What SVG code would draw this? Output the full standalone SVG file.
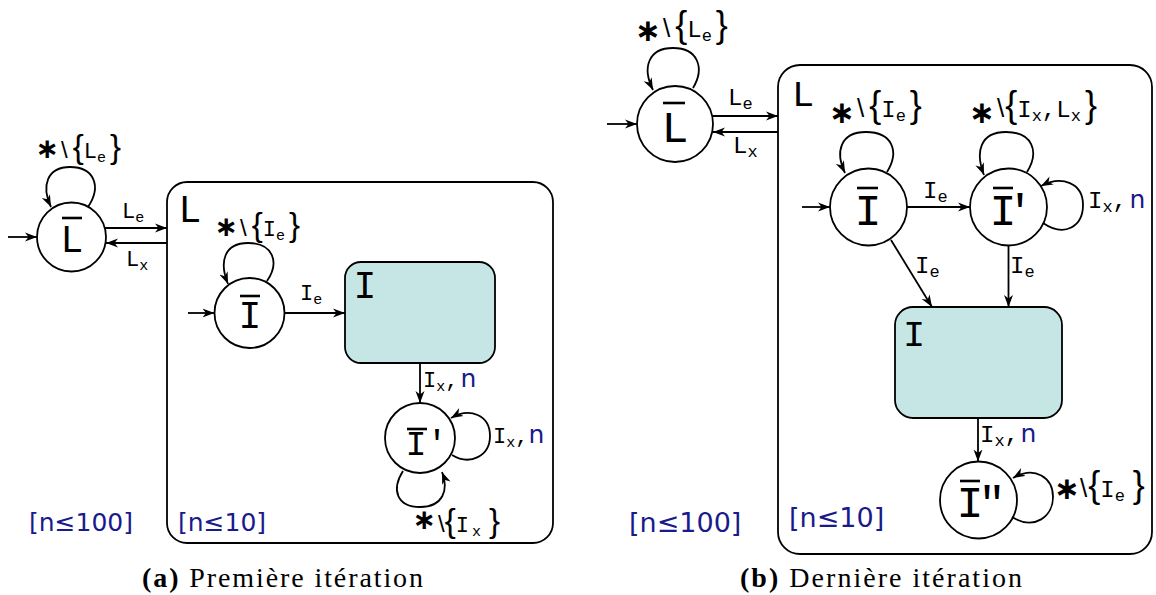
<svg xmlns="http://www.w3.org/2000/svg" width="1156" height="595" viewBox="0 0 1156 595">
<style>
.c{fill:#fff;stroke:#000;stroke-width:1.8}
.box{fill:#fff;stroke:#000;stroke-width:1.8}
.blk{fill:#c6e6e5;stroke:#000;stroke-width:1.8}
.e{fill:none;stroke:#000;stroke-width:1.8;marker-end:url(#ah)}
.bar{stroke:#000;stroke-width:2.6}
.g{font-family:"Liberation Mono",monospace;font-size:38px;text-anchor:middle}
.gb{font-family:"Liberation Mono",monospace;font-size:45px;text-anchor:middle}
.t{font-family:"Liberation Mono",monospace;font-size:22px}
.tb{font-family:"Liberation Mono",monospace;font-size:24px}
.s{font-size:15px}
.sb{font-size:17px}
.bs{font-family:"Liberation Sans",sans-serif;font-size:24px}
.bsb{font-family:"Liberation Sans",sans-serif;font-size:26px}
.br{font-family:"Liberation Sans",sans-serif;font-size:33px}
.brb{font-family:"Liberation Sans",sans-serif;font-size:36px}
.ast{font-family:"DejaVu Sans",sans-serif;font-weight:bold;font-size:28px}
.astb{font-family:"DejaVu Sans",sans-serif;font-weight:bold;font-size:31px}
.n{fill:#1a1a8c;font-family:"DejaVu Sans",sans-serif;font-size:25px}
.bl{fill:#1a1a8c;font-family:"DejaVu Sans",sans-serif;font-size:25px}
.blb{fill:#1a1a8c;font-family:"DejaVu Sans",sans-serif;font-size:27px}
.cap{font-family:"Liberation Serif",serif;font-size:28px;text-anchor:middle}
</style>
<defs>
<marker id="ah" markerUnits="userSpaceOnUse" markerWidth="13" markerHeight="10" refX="12" refY="5" orient="auto" viewBox="0 0 13 10">
<path d="M0,0.5 L12,5 L0,9.5 L3.5,5 z" fill="#000"/>
</marker>
</defs>

<!-- ===== (a) Première itération ===== -->
<g id="a-boxL">
<rect class="box" x="167" y="182" width="386" height="361" rx="20"/>
<text class="g" x="190" y="222">L</text>
<text class="bl" x="178" y="531">[n≤10]</text>
</g>
<g id="a-Lbar">
<circle class="c" cx="71.5" cy="237" r="34.5"/>
<line class="bar" x1="62" y1="218" x2="82" y2="218"/>
<text class="g" x="72" y="252">L</text>
</g>
<g id="a-Ibar">
<circle class="c" cx="249.5" cy="313" r="35"/>
<line class="bar" x1="240" y1="296" x2="260" y2="296"/>
<text class="g" x="250" y="328">I</text>
</g>
<g id="a-I">
<rect class="blk" x="345" y="262" width="150" height="101" rx="16"/>
<text class="g" x="365" y="298">I</text>
</g>
<g id="a-Ibarp">
<circle class="c" cx="420" cy="438" r="35"/>
<line class="bar" x1="407" y1="429" x2="427" y2="429"/>
<text x="405.5" y="455" style="font-family:'Liberation Mono',monospace;font-size:35px">I'</text>
</g>
<text id="a-bound" class="bl" x="29" y="531">[n≤100]</text>

<g id="a-edges">
<line class="e" x1="8" y1="237" x2="37" y2="237"/>
<path class="e" d="M88 207 C102 186,94 167,70 167 C47 167,41 186,51 207"/>
<line class="e" x1="105" y1="228" x2="167" y2="228"/>
<line class="e" x1="167" y1="243" x2="106" y2="243"/>
<line class="e" x1="188" y1="313" x2="214.5" y2="313"/>
<path class="e" d="M267 281 C280 262,273 243,248 243 C224 243,219 262,228 284"/>
<line class="e" x1="284.5" y1="313" x2="345" y2="313"/>
<line class="e" x1="420" y1="363" x2="420" y2="403"/>
<path class="e" d="M452 455 C470 466,490 456,490 436 C490 415,470 407,451 418"/>
<path class="e" d="M403 471 C391 490,397 507,420 507 C443 507,449 490,442 472"/>
</g>
<g id="a-labels">
<text class="t" x="35.5" y="158"><tspan class="ast" y="158.4">∗</tspan><tspan class="bs" dx="2" y="158">\</tspan><tspan class="br" dx="5">{</tspan><tspan>L</tspan><tspan class="s" dy="4">e</tspan><tspan class="br" dx="4" dy="-4">}</tspan></text>
<text class="t" x="122" y="218">L<tspan class="s" dy="4">e</tspan></text>
<text class="t" x="126" y="266">L<tspan class="s" dy="4">x</tspan></text>
<text class="t" x="214.5" y="236"><tspan class="ast" y="236.4">∗</tspan><tspan class="bs" dx="2" y="236">\</tspan><tspan class="br" dx="5">{</tspan><tspan>I</tspan><tspan class="s" dy="4">e</tspan><tspan class="br" dx="4" dy="-4">}</tspan></text>
<text class="t" x="300" y="300">I<tspan class="s" dy="4">e</tspan></text>
<text class="t" x="423" y="387">I<tspan class="s" dy="4">x</tspan><tspan dy="-4">,</tspan><tspan class="n" dx="2">n</tspan></text>
<text class="t" x="493" y="443">I<tspan class="s" dy="4">x</tspan><tspan dy="-4">,</tspan><tspan class="n">n</tspan></text>
<text class="t" x="412.5" y="532"><tspan class="ast" y="529">∗</tspan><tspan class="bs" dx="2" y="532">\</tspan><tspan class="br">{</tspan><tspan>I</tspan><tspan class="s" dx="3" dy="4">x</tspan><tspan class="br" dx="8" dy="-4">}</tspan></text>
</g>
<text id="a-caption" class="cap" x="282.5" y="587" textLength="281" lengthAdjust="spacing"><tspan font-weight="bold">(a)</tspan> Première itération</text>

<!-- ===== (b) Dernière itération ===== -->
<g id="b-boxL">
<rect class="box" x="778" y="65" width="374" height="489" rx="22"/>
<text class="g" style="font-size:37px" x="803" y="106">L</text>
<text class="blb" x="789" y="527">[n≤10]</text>
</g>
<g id="b-Lbar">
<circle class="c" cx="675" cy="124" r="38"/>
<line class="bar" x1="663" y1="103" x2="685" y2="103"/>
<text class="gb" x="675" y="142">L</text>
</g>
<g id="b-Ibar">
<circle class="c" cx="868.5" cy="207" r="38.5"/>
<line class="bar" x1="857" y1="188" x2="878" y2="188"/>
<text class="gb" x="868" y="225">I</text>
</g>
<g id="b-Ibarp">
<circle class="c" cx="1008.5" cy="207" r="38.5"/>
<line class="bar" x1="993" y1="188" x2="1013" y2="188"/>
<text x="989.5" y="225" style="font-family:'Liberation Mono',monospace;font-size:45px;letter-spacing:-10px">I'</text>
</g>
<g id="b-I">
<rect class="blk" x="895" y="307" width="167" height="111" rx="18"/>
<text class="g" style="font-size:37px" x="914" y="346">I</text>
</g>
<g id="b-Ibarpp">
<circle class="c" cx="978.5" cy="500" r="38.5"/>
<line class="bar" x1="960" y1="481" x2="980" y2="481"/>
<text x="956.5" y="517" style="font-family:'Liberation Mono',monospace;font-size:45px;letter-spacing:-5px">I"</text>
</g>
<text id="b-bound" class="blb" x="629" y="532">[n≤100]</text>

<g id="b-edges">
<line class="e" x1="607" y1="124" x2="637" y2="124"/>
<path class="e" d="M693 88 C705 68,698 48,673 48 C648 48,642 68,653 90"/>
<line class="e" x1="712" y1="116" x2="778" y2="116"/>
<line class="e" x1="778" y1="132" x2="713" y2="132"/>
<line class="e" x1="802" y1="207" x2="830" y2="207"/>
<path class="e" d="M887 172 C900 151,892 132,866 132 C840 132,835 152,845 173"/>
<line class="e" x1="907" y1="207" x2="970" y2="207"/>
<path class="e" d="M1027 172 C1040 151,1032 132,1006 132 C980 132,975 152,984 175"/>
<path class="e" d="M1043 223 C1065 238,1083 226,1083 205 C1083 183,1062 175,1041 186"/>
<line class="e" x1="891" y1="240" x2="932" y2="307"/>
<line class="e" x1="1008.5" y1="245.5" x2="1008.5" y2="307"/>
<line class="e" x1="978" y1="418" x2="978" y2="461.5"/>
<path class="e" d="M1012 517 C1035 531,1053 516,1053 497 C1053 478,1035 465,1013 478"/>
</g>
<g id="b-labels">
<text class="tb" x="635" y="37"><tspan class="astb" y="41">∗</tspan><tspan class="bsb" dx="2" y="37">\</tspan><tspan class="brb" dx="5">{</tspan><tspan>L</tspan><tspan class="sb" dy="4">e</tspan><tspan class="brb" dx="4" dy="-4">}</tspan></text>
<text class="tb" x="728" y="105">L<tspan class="sb" dy="4">e</tspan></text>
<text class="tb" x="733" y="153">L<tspan class="sb" dy="4">x</tspan></text>
<text class="tb" x="829" y="117"><tspan class="astb" y="123.3">∗</tspan><tspan class="bsb" dx="2" y="117">\</tspan><tspan class="brb" dx="5">{</tspan><tspan>I</tspan><tspan class="sb" dy="4">e</tspan><tspan class="brb" dx="4" dy="-4">}</tspan></text>
<text class="tb" x="969" y="117"><tspan class="astb" y="123.3">∗</tspan><tspan class="bsb" dx="2" y="117">\</tspan><tspan class="brb" dx="1">{</tspan><tspan>I</tspan><tspan class="sb" dy="4">x</tspan><tspan dy="-4">,</tspan><tspan>L</tspan><tspan class="sb" dy="4">x</tspan><tspan class="brb" dx="4" dy="-4">}</tspan></text>
<text class="tb" x="923" y="198">I<tspan class="sb" dy="4">e</tspan></text>
<text class="tb" x="1088" y="208">I<tspan class="sb" dy="4">x</tspan><tspan dy="-4">,</tspan><tspan class="n" dx="2.5">n</tspan></text>
<text class="tb" x="915" y="273">I<tspan class="sb" dy="4">e</tspan></text>
<text class="tb" x="1010" y="273">I<tspan class="sb" dy="4">e</tspan></text>
<text class="tb" x="980" y="442">I<tspan class="sb" dy="4">x</tspan><tspan dy="-4">,</tspan><tspan class="n" dx="1.5">n</tspan></text>
<text class="tb" x="1054" y="497"><tspan class="astb" y="499.3">∗</tspan><tspan class="bsb" y="497">\</tspan><tspan class="brb" dx="1">{</tspan><tspan>I</tspan><tspan class="sb" dy="4">e</tspan><tspan class="brb" dx="8" dy="-4">}</tspan></text>
</g>
<text id="b-caption" class="cap" x="881" y="587" textLength="282" lengthAdjust="spacing"><tspan font-weight="bold">(b)</tspan> Dernière itération</text>
</svg>
